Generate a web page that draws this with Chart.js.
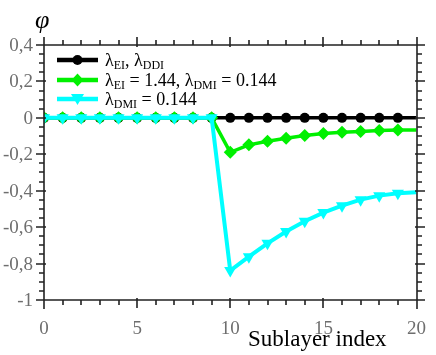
<!DOCTYPE html>
<html><head><meta charset="utf-8">
<script src="https://cdn.jsdelivr.net/npm/chart.js@4"></script>
<style>html,body{margin:0;padding:0;background:#fff}#w{width:436px;height:355px}</style>
</head><body><div id="w"><canvas id="c" width="436" height="355"></canvas></div>
<script>
const sublayers = [0,1,2,3,4,5,6,7,8,9,10,11,12,13,14,15,16,17,18,19,20];
const phiEiDdi = [0,0,0,0,0,0,0,0,0,0,0,0,0,0,0,0,0,0,0,0,0];
const phiEiDmi = [0,0,0,0,0,0,0,0,0,0,-0.189,-0.148,-0.128,-0.112,-0.097,-0.086,-0.079,-0.075,-0.070,-0.067,-0.066];
const phiDmi   = [0,0,0,0,0,0,0,0,0,0,-0.838,-0.762,-0.689,-0.624,-0.568,-0.520,-0.482,-0.449,-0.427,-0.414,-0.408];
const yTickValues = [-1,-0.8,-0.6,-0.4,-0.2,0,0.2,0.4];
const yTickLabels = ['-1','-0,8','-0,6','-0,4','-0,2','0','0,2','0,4'];
const xTickValues = [0,5,10,15,20];
const xTickLabels = ['0','5','10','15','20'];
const legendItems = [
  {parts:[['λ',''],['EI','s'],[', λ',''],['DDI','s']], color:'#000000', style:'circle'},
  {parts:[['λ',''],['EI','s'],[' = 1.44, λ',''],['DMI','s'],[' = 0.144','']], color:'#00f000', style:'diamond'},
  {parts:[['λ',''],['DMI','s'],[' = 0.144','']], color:'#00ffff', style:'tri'}
];
const serif = '"Liberation Serif","DejaVu Serif",serif';

function pts(arr){return sublayers.map((x,i)=>({x:x,y:arr[i]}));}
const radii = (r)=>sublayers.map((x,i)=> i===sublayers.length-1 ? 0 : r);

const framePlugin = {
  id:'frame',
  afterDraw(chart){
    const ctx = chart.ctx, a = chart.chartArea;
    const xs = chart.scales.x, ys = chart.scales.y;
    const L = Math.round(a.left), R = Math.round(a.right), T = Math.round(a.top), B = Math.round(a.bottom);
    ctx.save();
    ctx.strokeStyle = '#222';
    ctx.lineWidth = 1.6;
    ctx.beginPath();
    // axis lines with overhang
    ctx.moveTo(L-8,B); ctx.lineTo(R+8,B);
    ctx.moveTo(L-8,T); ctx.lineTo(R+8,T);
    ctx.moveTo(L,T-8); ctx.lineTo(L,B+9);
    ctx.moveTo(R,T-8); ctx.lineTo(R,B+9);
    // x ticks (outward)
    for (let v=0; v<=20; v++){
      const px = Math.round(xs.getPixelForValue(v));
      const major = v%5===0;
      const len = major?8:5, inn = major?2:0;
      ctx.moveTo(px,B-inn); ctx.lineTo(px,B+len);
      ctx.moveTo(px,T+inn); ctx.lineTo(px,T-len);
    }
    // y ticks (outward)
    for (let k=0; k<=28; k++){
      const v = -1 + k*0.05;
      const py = Math.round(ys.getPixelForValue(v));
      const major = k%4===0;
      const len = major?8:5, inn = major?2:0;
      ctx.moveTo(L+inn,py); ctx.lineTo(L-len,py);
      ctx.moveTo(R-inn,py); ctx.lineTo(R+len,py);
    }
    ctx.stroke();
    // y tick labels
    ctx.fillStyle = '#6e6e6e';
    ctx.font = '19px ' + serif;
    ctx.textAlign = 'right';
    ctx.textBaseline = 'middle';
    yTickValues.forEach((v,i)=>{ ctx.fillText(yTickLabels[i], 33, ys.getPixelForValue(v)+1); });
    // axis titles
    ctx.fillStyle = '#000';
    ctx.textBaseline = 'alphabetic';
    ctx.textAlign = 'left';
    ctx.font = 'italic 26px ' + serif;
    ctx.fillText('φ', 35, 28);
    ctx.font = '23px ' + serif;
    ctx.fillText('Sublayer index', 248, 346);
    // legend
    const ys0 = [60, 80, 99];
    legendItems.forEach((it,i)=>{
      const y = ys0[i];
      ctx.strokeStyle = it.color; ctx.fillStyle = it.color;
      ctx.lineWidth = 4.5;
      ctx.beginPath(); ctx.moveTo(57,y); ctx.lineTo(98,y); ctx.stroke();
      const cx = 77.5;
      ctx.beginPath();
      if (it.style==='circle'){ ctx.arc(cx,y,5,0,Math.PI*2); }
      else if (it.style==='diamond'){ ctx.moveTo(cx,y-6.5); ctx.lineTo(cx+6,y); ctx.lineTo(cx,y+6.5); ctx.lineTo(cx-6,y); ctx.closePath(); }
      else { ctx.moveTo(cx-6.5,y-5); ctx.lineTo(cx+6.5,y-5); ctx.lineTo(cx,y+6); ctx.closePath(); }
      ctx.fill();
      ctx.fillStyle = '#000';
      let x = 105;
      it.parts.forEach(([t,s])=>{
        if (s==='s'){ ctx.font = '12px ' + serif; ctx.fillText(t,x,y+9); }
        else { ctx.font = '18px ' + serif; ctx.fillText(t,x,y+6); }
        x += ctx.measureText(t).width;
      });
    });
    ctx.restore();
  }
};

new Chart(document.getElementById('c'), {
  type:'line',
  data:{datasets:[
    {label:'EI DDI', data:pts(phiEiDdi), borderColor:'#000000', backgroundColor:'#000000', borderWidth:3.5, pointStyle:'circle', pointRadius:radii(5), pointBorderWidth:0, order:3, clip:0},
    {label:'EI DMI', data:pts(phiEiDmi), borderColor:'#00f000', backgroundColor:'#00f000', borderWidth:3.5, pointStyle:'rectRot', pointRadius:radii(6.5), pointBorderWidth:0, order:2, clip:0},
    {label:'DMI', data:pts(phiDmi), borderColor:'#00ffff', backgroundColor:'#00ffff', borderWidth:4, pointStyle:'triangle', pointRotation:180, pointRadius:radii(7), pointBorderWidth:0, order:1, clip:0}
  ]},
  options:{
    responsive:false, animation:false,
    layout:{padding:{left:0,right:16,top:45,bottom:0}},
    plugins:{legend:{display:false}, tooltip:{enabled:false}},
    scales:{
      x:{type:'linear', min:0, max:20,
        grid:{display:false}, border:{display:false},
        ticks:{stepSize:5, color:'#6e6e6e', font:{family:serif, size:19}, padding:10,
          callback:(v)=>{const i=xTickValues.indexOf(v); return i>=0?xTickLabels[i]:'';}},
        afterFit:(s)=>{s.height=55;}},
      y:{type:'linear', min:-1, max:0.4,
        grid:{display:false}, border:{display:false},
        ticks:{display:false, stepSize:0.2},
        afterFit:(s)=>{s.width=44;}}
    }
  },
  plugins:[framePlugin]
});
</script></body></html>
